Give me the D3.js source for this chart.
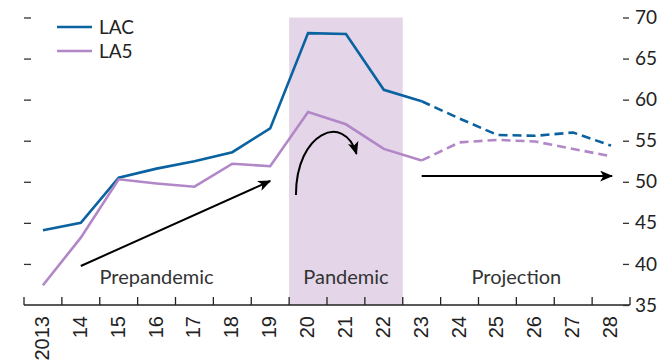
<!DOCTYPE html>
<html><head><meta charset="utf-8">
<script src="https://cdn.jsdelivr.net/npm/d3@7"></script>
<style>
html,body{margin:0;padding:0;background:#fff;}
svg{display:block;}
</style></head>
<body>
<script>
const years = ["2013","14","15","16","17","18","19","20","21","22","23","24","25","26","27","28"];
const lac = [44.1,45.0,50.5,51.6,52.5,53.6,56.5,68.1,68.0,61.2,59.8,57.7,55.7,55.6,56.0,54.4];
const la5 = [37.4,43.2,50.3,49.8,49.4,52.2,51.9,58.5,57.0,54.0,52.6,54.8,55.1,54.9,54.0,53.1];
const yTicks = [35,40,45,50,55,60,65,70];
const seriesNames = ["LAC","LA5"];
const colors = ["#0a62a0","#b287c7"];
const projStart = "23";
const pandemic = ["20","21","22"];
const periodLabels = [{t:"Prepandemic", at:["14","18"]},{t:"Pandemic", at:["20","22"]},{t:"Projection", at:["23","28"]}];

const W=671,H=363;
const svg=d3.select("body").append("svg").attr("width",W).attr("height",H);
const x=d3.scaleBand().domain(years).range([24,630]).paddingInner(0).paddingOuter(0);
const y=d3.scaleLinear().domain([35,70]).range([305,17.5]);
const cx=d=>x(d)+x.bandwidth()/2;

// shaded pandemic
svg.append("rect")
  .attr("x",x(pandemic[0])).attr("y",y(70))
  .attr("width",x(pandemic[2])+x.bandwidth()-x(pandemic[0]))
  .attr("height",y(35)-y(70))
  .attr("fill","#e4d6e8");

// x axis line + boundary ticks
const gx=svg.append("g");
gx.append("line").attr("x1",x.range()[0]).attr("x2",x.range()[1]).attr("y1",y(35)).attr("y2",y(35)).attr("stroke","#222").attr("stroke-width",1.3);
const bounds=years.map(d=>x(d)).concat([x.range()[1]]);
gx.selectAll("line.t").data(bounds).join("line").attr("class","t")
  .attr("x1",d=>d).attr("x2",d=>d).attr("y1",y(35)).attr("y2",y(35)-8)
  .attr("stroke","#222").attr("stroke-width",1.3);
gx.selectAll("text").data(years).join("text")
  .attr("transform",d=>`translate(${cx(d)},${y(35)+11}) rotate(-90)`)
  .attr("text-anchor","end").attr("dy","0.3em")
  .attr("font-family","Liberation Sans, Arial, sans-serif").attr("font-size",20).attr("fill","#222")
  .text(d=>d);

// right axis
const yr=d3.axisRight(y).tickValues(yTicks).tickSize(6).tickPadding(6).tickFormat(d3.format("d"));
const gr=svg.append("g").attr("transform","translate(623,0)").call(yr);
gr.select(".domain").remove();
gr.selectAll(".tick line").attr("stroke","#333").attr("stroke-width",1.3);
gr.selectAll(".tick text").attr("font-family","Lato, sans-serif").attr("font-size",19).attr("fill","#222");

// left ticks
const yl=d3.axisRight(y).tickValues(yTicks.filter(v=>v>35)).tickSize(7).tickFormat("");
const gl=svg.append("g").attr("transform","translate(24,0)").call(yl);
gl.select(".domain").remove();
gl.selectAll(".tick line").attr("stroke","#333").attr("stroke-width",1.3);

// lines
const line=d3.line().x(d=>cx(d.year)).y(d=>y(d.v));
[lac,la5].forEach((arr,i)=>{
  const pts=years.map((yv,j)=>({year:yv,v:arr[j]}));
  const k=years.indexOf(projStart);
  svg.append("path").datum(pts.slice(0,k+1)).attr("d",line).attr("fill","none")
    .attr("stroke",colors[i]).attr("stroke-width",2.6).attr("stroke-linejoin","miter");
  svg.append("path").datum(pts.slice(k)).attr("d",line).attr("fill","none")
    .attr("stroke",colors[i]).attr("stroke-width",2.6).attr("stroke-dasharray","9,5");
});

// legend
const lg=svg.append("g");
seriesNames.forEach((n,i)=>{
  const yy=27+i*24;
  lg.append("line").attr("x1",57).attr("x2",92).attr("y1",yy).attr("y2",yy).attr("stroke",colors[i]).attr("stroke-width",2.6);
  lg.append("text").attr("x",99).attr("y",yy).attr("dy","0.35em").attr("font-family","Lato, sans-serif").attr("font-size",19).attr("fill","#222").text(n);
});

// arrows
const defs=svg.append("defs");
defs.append("marker").attr("id","ah").attr("viewBox","0 0 12 10").attr("refX",11).attr("refY",5)
  .attr("markerWidth",13).attr("markerHeight",11).attr("markerUnits","userSpaceOnUse").attr("orient","auto")
  .append("path").attr("d","M0,0 L12,5 L0,10 L3,5 Z").attr("fill","#000");
svg.append("line").attr("x1",cx("14")).attr("y1",y(39.75)).attr("x2",cx("19")).attr("y2",y(50.1))
  .attr("stroke","#000").attr("stroke-width",2).attr("marker-end","url(#ah)");
svg.append("line").attr("x1",cx("23")).attr("y1",y(50.7)).attr("x2",cx("28")+1).attr("y2",y(50.7))
  .attr("stroke","#000").attr("stroke-width",2).attr("marker-end","url(#ah)");
const bx=x("20"), bw=x.bandwidth();
const cp=d3.path();
cp.moveTo(bx+bw*0.18,y(48.4));
cp.bezierCurveTo(bx+bw*0.18,y(56.0),bx+bw*1.45,y(58.5),bx+bw*1.78,y(53.4));
svg.append("path").attr("d",cp.toString()).attr("fill","none").attr("stroke","#000").attr("stroke-width",2).attr("marker-end","url(#ah)");

// period labels
svg.selectAll("text.pl").data(periodLabels).join("text").attr("class","pl")
  .attr("x",d=>(cx(d.at[0])+cx(d.at[1]))/2).attr("y",284)
  .attr("text-anchor","middle").attr("font-family","Lato, sans-serif").attr("font-size",20).attr("fill","#333")
  .text(d=>d.t);
</script>
</body></html>
